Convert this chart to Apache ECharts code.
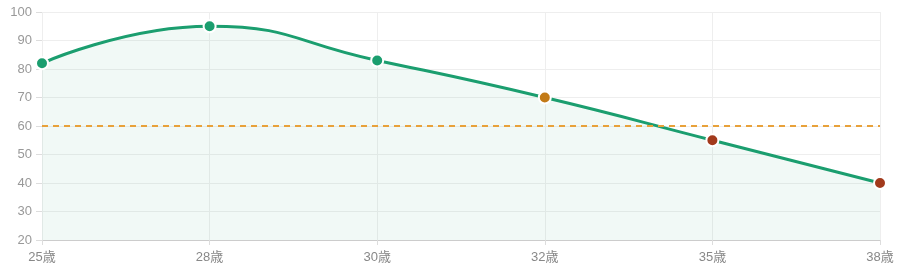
<!DOCTYPE html>
<html><head><meta charset="utf-8">
<script src="https://cdn.jsdelivr.net/npm/echarts@6/dist/echarts.min.js"></script>
<style>html,body{margin:0;padding:0;background:#fff}#c{width:900px;height:275px}</style>
</head><body><div id="c"></div>
<script>
const categories = ['25歳','28歳','30歳','32歳','35歳','38歳'];
const values = [82, 95, 83, 70, 55, 40];
const pointColors = ['#1b9e6f','#1b9e6f','#1b9e6f','#c27a17','#a23a1c','#a23a1c'];
const threshold = 60;
const chart = echarts.init(document.getElementById('c'));
chart.setOption({
  animation:false,
  textStyle:{fontFamily:'"Liberation Sans", "Noto Sans CJK JP", sans-serif'},
  grid:{left:42,right:20,top:12,bottom:35},
  xAxis:{type:'category',data:categories,boundaryGap:false,
    axisLine:{lineStyle:{color:'#ccc'}},axisTick:{show:true,length:5,lineStyle:{color:'#ddd'}},
    axisLabel:{color:'#888',fontSize:13,margin:11},
    splitLine:{show:true,lineStyle:{color:'#eee'}}},
  yAxis:{type:'value',min:20,max:100,interval:10,
    axisLine:{show:false},
    axisTick:{show:true,length:6,lineStyle:{color:'#ddd'}},
    axisLabel:{color:'#999',fontSize:13,margin:10},
    splitLine:{lineStyle:{color:'#eee'}}},
  series:[{type:'line',smooth:true,data:values.map((v,i)=>({value:v,itemStyle:{color:pointColors[i]}})),
    symbol:'circle',symbolSize:12,
    lineStyle:{color:'#1b9e6f',width:3},
    itemStyle:{borderColor:'#fff',borderWidth:2},
    areaStyle:{color:'rgba(27,158,111,0.09)'},
    markLine:{silent:true,symbol:'none',label:{show:false},
      lineStyle:{color:'#e8a13a',type:[6,5],width:2},
      data:[{yAxis:threshold}]}
  }]
});
</script></body></html>
